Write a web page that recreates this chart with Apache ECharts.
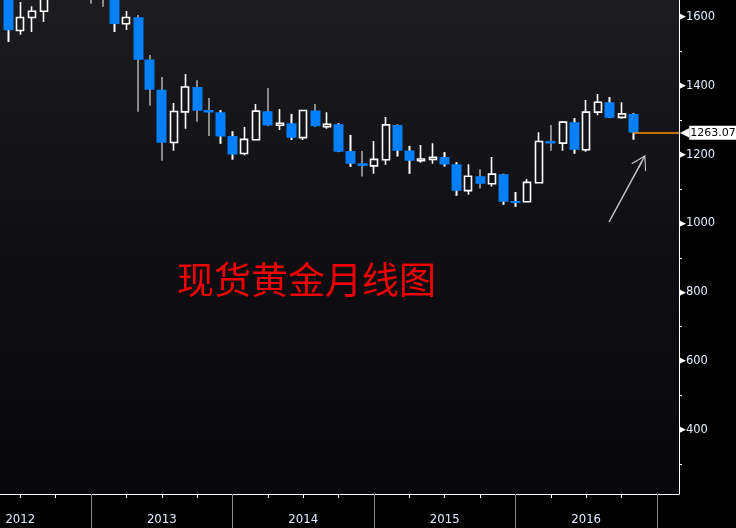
<!DOCTYPE html>
<html><head><meta charset="utf-8">
<script src="https://cdn.jsdelivr.net/npm/echarts@6/dist/echarts.min.js"></script>
<style>html,body{margin:0;padding:0;background:#000}#c{width:736px;height:528px}</style>
</head><body><div id="c"></div>
<script>
// ---- data (monthly spot gold) ----
const months = ['2012-05','2012-06','2012-07','2012-08','2012-09','2012-10','2012-11','2012-12',
  '2013-01','2013-02','2013-03','2013-04','2013-05','2013-06','2013-07','2013-08','2013-09','2013-10','2013-11','2013-12',
  '2014-01','2014-02','2014-03','2014-04','2014-05','2014-06','2014-07','2014-08','2014-09','2014-10','2014-11','2014-12',
  '2015-01','2015-02','2015-03','2015-04','2015-05','2015-06','2015-07','2015-08','2015-09','2015-10','2015-11','2015-12',
  '2016-01','2016-02','2016-03','2016-04','2016-05','2016-06','2016-07','2016-08','2016-09','2016-10'];
const open  = [1664,1560,1598,1616,1687,1773,1719,1712,
  1675,1663,1580,1599,1476,1388,1235,1324,1396,1329,1323,1254,
  1203,1243,1326,1285,1291,1249,1328,1281,1288,1210,1175,1167,
  1185,1286,1212,1182,1186,1193,1172,1095,1137,1115,1143,1065,
  1063,1118,1239,1233,1294,1214,1323,1352,1308,1318];
const close = [1561,1598,1616,1687,1773,1719,1712,1675,
  1663,1579,1598,1475,1388,1234,1325,1396,1327,1322,1252,1200,
  1244,1326,1284,1291,1249,1328,1282,1288,1208,1173,1167,1186,
  1286,1211,1182,1187,1192,1171,1095,1137,1115,1143,1063,1059,
  1119,1238,1232,1294,1214,1323,1352,1307,1318,1263.07];
const low   = [1527,1548,1556,1585,1686,1692,1672,1638,
  1629,1556,1562,1324,1342,1182,1211,1275,1295,1254,1231,1185,
  1198,1242,1283,1271,1242,1242,1281,1275,1207,1164,1136,1144,
  1170,1194,1144,1176,1173,1165,1080,1083,1101,1107,1054,1048,
  1062,1117,1211,1211,1202,1208,1314,1306,1304,1243];
const high  = [1666,1643,1631,1691,1790,1796,1755,1723,
  1694,1676,1617,1605,1489,1425,1350,1434,1416,1364,1329,1268,
  1280,1347,1393,1332,1318,1328,1347,1323,1291,1257,1210,1239,
  1309,1287,1225,1228,1233,1207,1178,1172,1157,1193,1144,1091,
  1129,1265,1286,1297,1306,1358,1376,1367,1352,1320];
const yearLabels = ['2012','2013','2014','2015','2016'];
const yLabelValues = [400,600,800,1000,1200,1400,1600];
const yTickValues = [300,400,500,600,700,800,900,1000,1100,1200,1300,1400,1500,1600];
const lastPrice = 1263.07;
const titleText = '现货黄金月线图';
// annotation arrow, [month position, price]
const arrowStart = [55.94, 1004];
const arrowEnd = [58.74, 1180.6];

// month position: months counted from 2011-12
function monthIndex(s){ const [y,m]=s.split('-').map(Number); return (y-2011)*12 + m - 12; }
const xMin = 4.279, xMax = 61.876, yMin = 214, yMax = 1648.8;

const tIdx = months.map(monthIndex);
const upData = [], downData = [], wickData = [];
for (let i = 0; i < months.length; i++) {
  const row = [tIdx[i], open[i], close[i], low[i], high[i]];
  if (close[i] >= open[i]) upData.push(row);
  else { downData.push(row); wickData.push([tIdx[i], low[i], high[i], low[i], high[i]]); }
}
const quarterTicks = [];
for (let t = 3; t <= 60; t += 3) quarterTicks.push(t);
const yearSepTicks = yearLabels.map(y => monthIndex(y + '-12'));
const yearLabelPos = yearLabels.map(y => monthIndex(y + '-06'));

const chart = echarts.init(document.getElementById('c'));
chart.setOption({
  animation: false,
  backgroundColor: '#000',
  title: {
    text: titleText, left: 172, top: 256,
    textStyle: { color: '#f00000', fontSize: 37, fontWeight: 'normal', fontFamily: 'Noto Sans CJK SC' }
  },
  grid: {
    left: 0, right: 57, top: 0, bottom: 34, show: true, borderWidth: 0,
    backgroundColor: new echarts.graphic.LinearGradient(0, 0, 0, 1, [
      { offset: 0, color: '#1c1c1f' }, { offset: 0.5, color: '#0f0f13' }, { offset: 1, color: '#07070b' }
    ])
  },
  xAxis: [{
    type: 'value', min: xMin, max: xMax, position: 'bottom',
    axisLine: { show: true, lineStyle: { color: '#fff', width: 1 } },
    axisTick: { show: true, customValues: quarterTicks, length: 4, lineStyle: { color: '#fff' } },
    axisLabel: {
      customValues: yearLabelPos, margin: 19, color: '#e4ecff', fontSize: 13,
      fontFamily: 'DejaVu Sans Condensed, Liberation Sans Narrow, sans-serif',
      formatter: v => yearLabels[yearLabelPos.indexOf(Math.round(v))] || ''
    },
    splitLine: { show: false }
  }, {
    type: 'value', min: xMin, max: xMax, position: 'bottom',
    axisLine: { show: false },
    axisTick: { show: true, customValues: yearSepTicks, length: 34, lineStyle: { color: '#8a8a8a' } },
    axisLabel: { show: false }, splitLine: { show: false }
  }],
  yAxis: {
    type: 'value', position: 'right', min: yMin, max: yMax,
    axisLine: { show: true, lineStyle: { color: '#fff', width: 1 } },
    axisTick: { show: true, customValues: yTickValues, length: 3, lineStyle: { color: '#fff' } },
    axisLabel: {
      customValues: yLabelValues, margin: 0,
      formatter: v => '{t|▶}{v|' + v + '}',
      rich: {
        t: { color: '#fff', fontSize: 9, fontFamily: 'DejaVu Sans' },
        v: { color: '#e4ecff', fontSize: 11.5, fontFamily: 'DejaVu Sans' }
      }
    },
    splitLine: { show: false }
  },
  series: [{
    name: 'wick', type: 'candlestick', xAxisIndex: 0, data: wickData, barWidth: 2,
    encode: { x: 0, y: [1, 2, 3, 4] },
    itemStyle: { color: '#fff', color0: '#fff', borderWidth: 0 },
    markLine: {
      silent: true, symbol: ['none', 'none'], animation: false,
      data: [
        [{ coord: [monthIndex(months[months.length - 1]), lastPrice],
           lineStyle: { color: '#ff8c00', width: 1.5, type: 'solid' },
           label: {
             show: true, position: 'end', distance: 1,
             formatter: '{a|◀}{b|' + lastPrice.toFixed(2) + '}',
             rich: {
               a: { color: '#fff', fontSize: 12, fontFamily: 'DejaVu Sans' },
               b: { color: '#000', backgroundColor: '#fff', fontSize: 11, fontFamily: 'DejaVu Sans', padding: [2, 2, 1, 1] }
             }
           } },
         { coord: [xMax, lastPrice] }],
        [{ coord: arrowStart, lineStyle: { color: '#c4c4c4', width: 1.5, type: 'solid' }, label: { show: false } },
         { coord: arrowEnd, symbol: 'path://M0,15 L9,0 L18,15 L16.6,15 L9,2.4 L1.4,15 Z M8.3,0.6 L9.7,0.6 L9.7,15 L8.3,15 Z', symbolSize: [17, 14] }]
      ]
    }
  }, {
    name: 'down', type: 'candlestick', data: downData, barWidth: 10.5,
    encode: { x: 0, y: [1, 2, 3, 4] },
    itemStyle: { color: '#0080ff', color0: '#0080ff', borderWidth: 0 }
  }, {
    name: 'up', type: 'candlestick', data: upData, barWidth: 7.5,
    encode: { x: 0, y: [1, 2, 3, 4] },
    itemStyle: { color: 'rgba(0,0,0,0)', color0: 'rgba(0,0,0,0)', borderColor: '#fff', borderColor0: '#fff', borderWidth: 1.6 }
  }]
});
</script></body></html>
